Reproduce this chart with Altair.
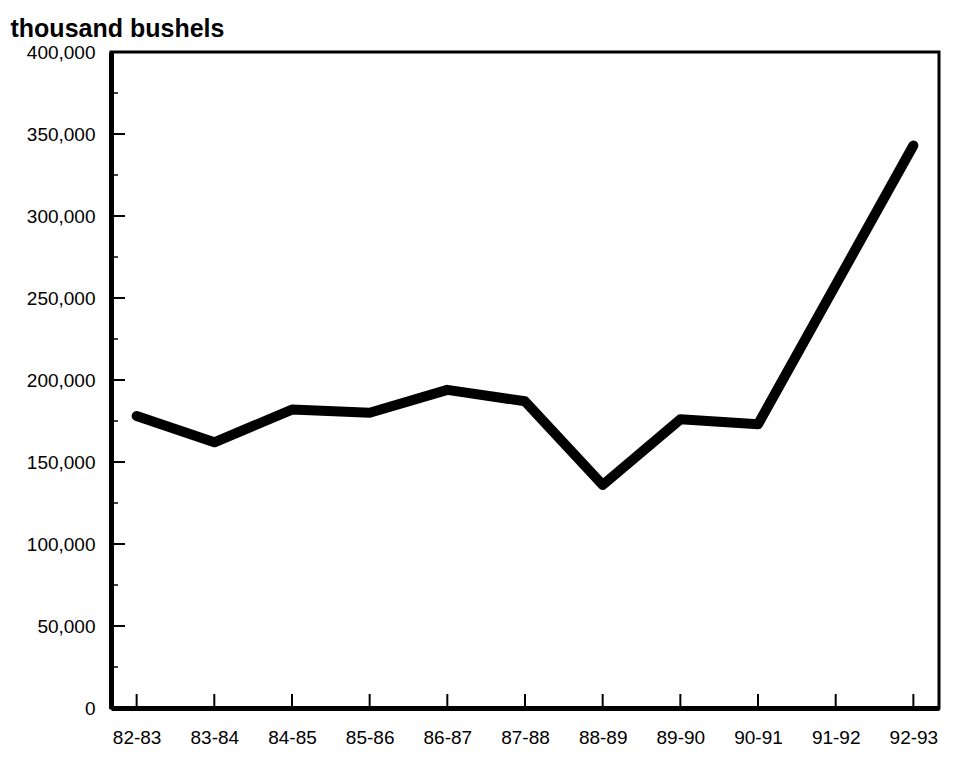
import altair as alt
import pandas as pd

seasons = ["82-83", "83-84", "84-85", "85-86", "86-87", "87-88",
           "88-89", "89-90", "90-91", "91-92", "92-93"]
values = [178000, 162000, 182000, 180000, 194000, 187000,
          136000, 176000, 173000, 258000, 343000]
major_ticks = [50000, 100000, 150000, 200000, 250000, 300000, 350000]
minor_ticks = [25000, 75000, 125000, 175000, 225000, 275000, 325000, 375000]
y_labels = [0, 50000, 100000, 150000, 200000, 250000, 300000, 350000, 400000]

df = pd.DataFrame({"season": seasons, "value": values})
df_major = pd.DataFrame({"value": major_ticks})
df_minor = pd.DataFrame({"value": minor_ticks})
df_x = pd.DataFrame({"season": seasons})

FONT = "Liberation Sans"
W, H = 828, 656

xscale = alt.Scale(type="point", domain=seasons, padding=0.33)
yscale = alt.Scale(domain=[0, 400000], nice=False, zero=True)

xaxis = alt.Axis(title=None, labelAngle=0, ticks=False,
                 labelFontSize=19, labelFont=FONT, labelColor="black",
                 labelPadding=20, domainWidth=5, domainColor="black")
yaxis = alt.Axis(values=y_labels, format=",.0f", ticks=False, grid=False,
                 labelFontSize=19, labelFont=FONT, labelColor="black",
                 labelPadding=16, domainWidth=5, domainColor="black",
                 title="thousand bushels", titleAngle=0,
                 titleAlign="left", titleBaseline="alphabetic",
                 titleX=-101, titleY=-16, titleFontSize=25,
                 titleFont=FONT, titleFontWeight="bold",
                 titleColor="black", titleLimit=400)

X = alt.X("season:N", scale=xscale, sort=seasons, axis=xaxis)
Y = alt.Y("value:Q", scale=yscale, axis=yaxis)

line = alt.Chart(df).mark_line(
    color="black", strokeWidth=10, strokeCap="round", strokeJoin="round"
).encode(x=X, y=Y)

ymajor = alt.Chart(df_major).mark_rule(color="black", strokeWidth=2).encode(
    y=Y, x=alt.value(0), x2=alt.value(14)
)
yminor = alt.Chart(df_minor).mark_rule(color="black", strokeWidth=1.5).encode(
    y=Y, x=alt.value(0), x2=alt.value(7)
)
xticks = alt.Chart(df_x).mark_rule(color="black", strokeWidth=2).encode(
    x=X, y=alt.value(H), y2=alt.value(H - 14)
)

chart = alt.layer(line, ymajor, yminor, xticks).properties(
    width=W, height=H,
    autosize=alt.AutoSizeParams(type="none"),
    padding={"left": 103, "top": 44, "right": 10, "bottom": 50},
).configure_view(stroke="black", strokeWidth=3)

chart.save("out.html", embed_options={"renderer": "svg", "actions": False})
